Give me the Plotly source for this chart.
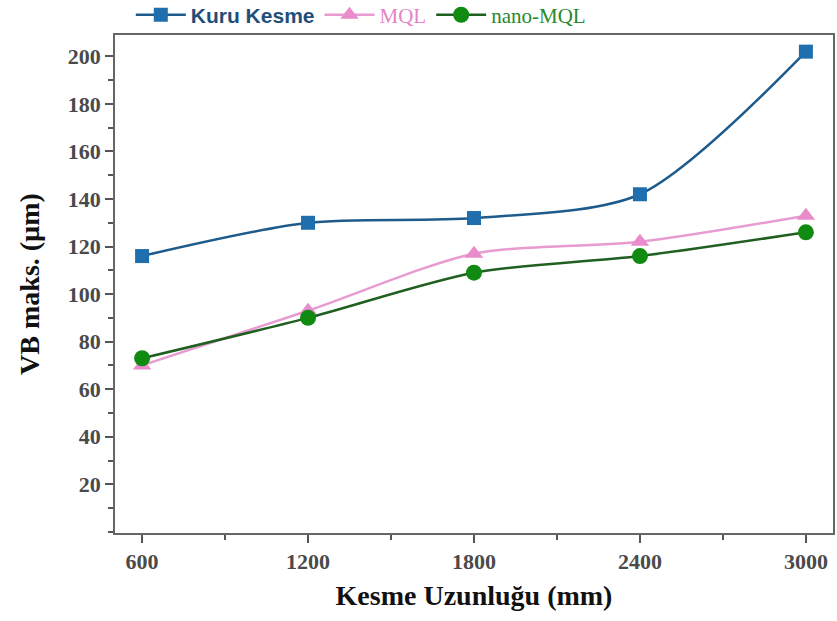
import plotly.graph_objects as go

# Cutting length (mm) and maximum flank wear VB (µm) for each cooling condition
kesme_uzunlugu = [600, 1200, 1800, 2400, 3000]
kuru_kesme = [116, 130, 132, 142, 202]
mql = [70, 93, 117, 122, 133]
nano_mql = [73, 90, 109, 116, 126]

x_ticks = [600, 1200, 1800, 2400, 3000]
y_ticks = [20, 40, 60, 80, 100, 120, 140, 160, 180, 200]

serif = "Liberation Serif, Times New Roman, serif"
sans = "Liberation Sans, Arial, sans-serif"

fig = go.Figure()
fig.add_trace(go.Scatter(
    x=kesme_uzunlugu, y=kuru_kesme, mode="lines+markers",
    name=f"<span style='font-family:{sans}'><b>Kuru Kesme</b></span>",
    line=dict(color="#1d5b8c", width=2.5, shape="spline", smoothing=0.8),
    marker=dict(symbol="square", size=14, color="#1f6ead"),
))
fig.add_trace(go.Scatter(
    x=kesme_uzunlugu, y=mql, mode="lines+markers",
    name="<span style='color:#e683c6'>MQL</span>",
    line=dict(color="#e79bd0", width=2.5, shape="spline", smoothing=0.8),
    marker=dict(symbol="triangle-up", size=16, color="#ea8bcb"),
))
fig.add_trace(go.Scatter(
    x=kesme_uzunlugu, y=nano_mql, mode="lines+markers",
    name="<span style='color:#2a8a2a'>nano-MQL</span>",
    line=dict(color="#1f5f1f", width=2.5, shape="spline", smoothing=0.8),
    marker=dict(symbol="circle", size=16, color="#118a11"),
))

axis_common = dict(
    ticks="outside", ticklen=8, tickwidth=1.5, tickcolor="#555555",
    showline=True, linecolor="#666666", linewidth=1.5, mirror=True,
    showgrid=False, zeroline=False,
    tickfont=dict(family=serif, size=22, color="#4a4a4a"),
)

fig.update_layout(
    width=837, height=621,
    margin=dict(l=115, r=4, t=35, b=88, autoexpand=False),
    paper_bgcolor="white", plot_bgcolor="white",
    font=dict(family=serif, size=18, color="#333333"),
    showlegend=True,
    legend=dict(
        orientation="h", x=0.022, y=1.04, xanchor="left", yanchor="middle",
        font=dict(family=serif, size=21, color="#1f4e79"),
        bgcolor="rgba(0,0,0,0)", itemwidth=50, tracegroupgap=0,
    ),
    xaxis=dict(
        range=[502, 3098], tickvals=x_ticks, ticktext=[f"<b>{v}</b>" for v in x_ticks],
        minor=dict(ticks="outside", ticklen=5, tickwidth=1.5, tickcolor="#555555", dtick=300),
        title=dict(text="<b>Kesme Uzunluğu (mm)</b>",
                   font=dict(family=serif, size=28, color="#111111"), standoff=12),
        **axis_common,
    ),
    yaxis=dict(
        range=[-0.5, 209], tickvals=y_ticks, ticktext=[f"<b>{v}</b>" for v in y_ticks],
        minor=dict(ticks="outside", ticklen=5, tickwidth=1.5, tickcolor="#555555", dtick=10),
        title=dict(text="<b>VB maks. (µm)</b>",
                   font=dict(family=serif, size=28, color="#111111"), standoff=20),
        **axis_common,
    ),
)

fig.write_html("out.html")
